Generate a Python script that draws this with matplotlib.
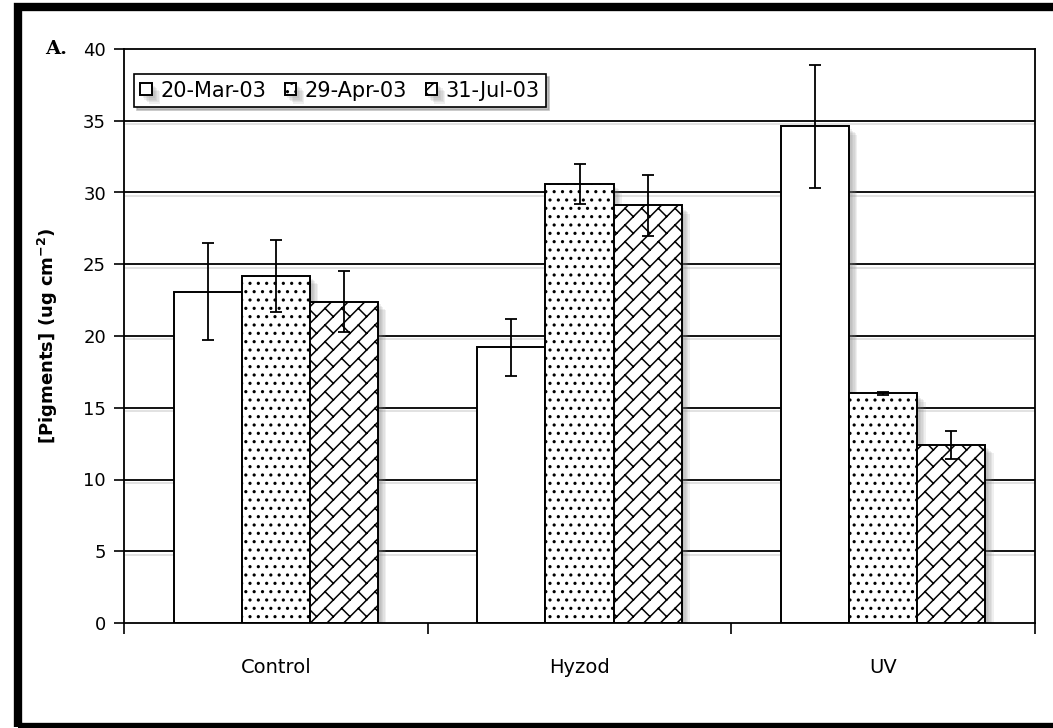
import warnings
import numpy as np
import matplotlib
matplotlib.use('Agg')
import matplotlib.pyplot as plt
import matplotlib.colors as mcolors
import matplotlib.patheffects as pe
from matplotlib import hatch as mhatch
from matplotlib.path import Path
from matplotlib.patches import Rectangle

warnings.filterwarnings('ignore', category=matplotlib.MatplotlibDeprecationWarning)

treatments = ['Control', 'Hyzod', 'UV']
dates = ['20-Mar-03', '29-Apr-03', '31-Jul-03']

mar_vals = [23.1, 19.2, 34.6]
mar_err = [3.4, 2.0, 4.3]
apr_vals = [24.2, 30.6, 16.0]
apr_err = [2.5, 1.4, 0.1]
jul_vals = [22.4, 29.1, 12.4]
jul_err = [2.1, 2.1, 1.0]

y_ticks = [0, 5, 10, 15, 20, 25, 30, 35, 40]


class DiagonalBrick(mhatch.HatchPatternBase):
    """Hatch letter 'b': brick courses running diagonally up to the right."""

    def __init__(self, hatch, density):
        n = hatch.count('b') * density
        segs = []
        if n:
            n += n % 2
            d = 1.0 / n
            for k in range(-n - 1, n + 1):
                c = k * d
                segs.append([(-1.0, -1.0 + c), (2.0, 2.0 + c)])
                for m in range(-1, n + 2):
                    s = 2 * m * d + (k % 2) * d
                    segs.append([((s - c) / 2, (s + c) / 2),
                                 ((s - c - d) / 2, (s + c + d) / 2)])
        self.segs = np.array(segs, dtype=float).reshape(-1, 2)
        self.num_vertices = len(self.segs)

    def set_vertices_and_codes(self, vertices, codes):
        vertices[:] = self.segs
        codes[0::2] = Path.MOVETO
        codes[1::2] = Path.LINETO


mhatch._hatch_types.append(DiagonalBrick)


class SoftShadow(pe.AbstractPathEffect):
    """Flat grey drop shadow that ignores the patch hatch."""

    def __init__(self, offset=(3, -3), color='0.5', alpha=0.12):
        super().__init__(offset)
        self.color = color
        self.alpha = alpha

    def draw_path(self, renderer, gc, tpath, affine, rgbFace=None):
        gc0 = renderer.new_gc()
        gc0.copy_properties(gc)
        gc0.set_hatch(None)
        gc0.set_linewidth(0)
        gc0.set_alpha(self.alpha)
        renderer.draw_path(gc0, tpath, affine + self._offset_transform(renderer),
                           mcolors.to_rgb(self.color))
        gc0.restore()


bar_fx = [SoftShadow((k, -k)) for k in (2, 3, 4, 5, 6)] + [pe.Normal()]
grid_fx = [pe.SimpleLineShadow(offset=(1.5, -2.5), shadow_color='0.5', alpha=0.25),
           pe.Normal()]

plt.rcParams['font.family'] = 'DejaVu Sans'
plt.rcParams['mathtext.default'] = 'regular'
plt.rcParams['hatch.linewidth'] = 1.1
plt.rcParams['hatch.color'] = 'black'

fig = plt.figure(figsize=(10.53, 7.28), dpi=100)
ax = fig.add_axes([124 / 1053, 105 / 728, 911 / 1053, 574 / 728])

x = np.arange(len(treatments))
w = 0.224
series = [(mar_vals, mar_err, ''), (apr_vals, apr_err, '..'), (jul_vals, jul_err, 'b')]
handles = []
for i, (vals, errs, hatch) in enumerate(series):
    bars = ax.bar(x + (i - 1) * w, vals, w, color='white', edgecolor='black',
                  linewidth=1.4, hatch=hatch, label=dates[i], zorder=2)
    for b in bars:
        b.set_path_effects(bar_fx)
    ax.errorbar(x + (i - 1) * w, vals, yerr=errs, fmt='none', ecolor='black',
                elinewidth=1.3, capsize=4, capthick=1.3, zorder=3)
    handles.append(bars)

ax.set_xlim(-0.5, len(treatments) - 0.5)
ax.set_ylim(0, 40)
ax.set_yticks(y_ticks)
ax.tick_params(axis='y', direction='out', length=7, width=1.2, labelsize=13, pad=6)

# boundaries carry the ticks, names sit between them
ax.set_xticks(np.arange(len(treatments) + 1) - 0.5)
ax.set_xticklabels([])
ax.set_xticks(x, minor=True)
ax.set_xticklabels(treatments, minor=True)
ax.tick_params(axis='x', which='major', direction='out', length=8, width=1.2)
ax.tick_params(axis='x', which='minor', length=0, labelsize=14, pad=25)

for yv in y_ticks[1:-1]:
    gl = ax.axhline(yv, color='black', linewidth=1.3, zorder=1)
    gl.set_path_effects(grid_fx)

for side in ['left', 'bottom', 'top', 'right']:
    ax.spines[side].set_linewidth(1.3)
    ax.spines[side].set_color('black')

ax.set_ylabel('[Pigments] (ug cm$^{-2}$)', fontsize=13, fontweight='bold')
ax.yaxis.set_label_coords(-0.07, 0.5)

ax.legend(handles=handles, labels=dates, ncol=3, loc='upper left',
          bbox_to_anchor=(0.011, 0.956), borderaxespad=0, fancybox=False,
          shadow={'color': '0.6', 'alpha': 0.6}, edgecolor='black', framealpha=1,
          fontsize=15, handlelength=0.55, handleheight=0.55, handletextpad=0.4,
          columnspacing=0.9, borderpad=0.3)
ax.get_legend().get_frame().set_linewidth(1.2)

fig.text(45 / 1053, 1 - 49 / 728, 'A.', family='DejaVu Serif', weight='bold',
         fontsize=14, ha='left', va='center')

# heavy black frame around the panel
fig.patches.append(Rectangle((18 / 1053, 1 / 728), 1.1, 1 - 8 / 728,
                             transform=fig.transFigure, fill=False,
                             edgecolor='black', linewidth=6, clip_on=False))

fig.savefig('out.png', dpi=100)
